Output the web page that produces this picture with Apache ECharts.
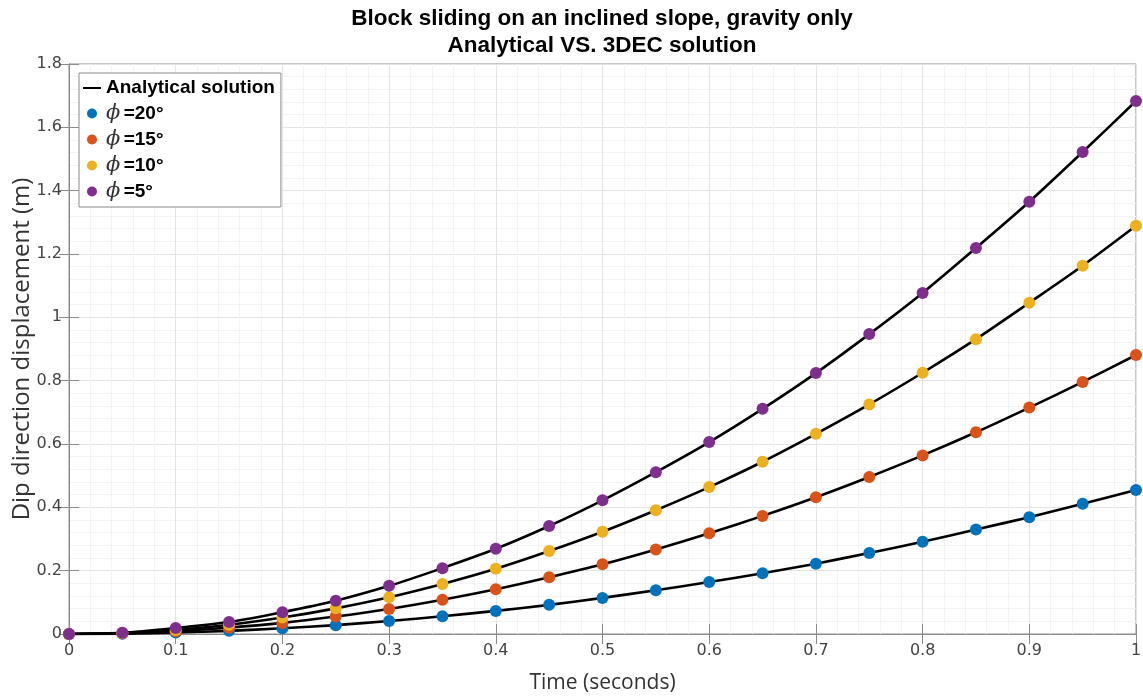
<!DOCTYPE html>
<html>
<head>
<meta charset="utf-8">
<script src="https://cdn.jsdelivr.net/npm/echarts@6/dist/echarts.min.js"></script>
<style>html,body{margin:0;padding:0;background:#fff;}#c{width:1143px;height:698px;}</style>
</head>
<body>
<div id="c"></div>
<script>
var times = [0,0.05,0.1,0.15,0.2,0.25,0.3,0.35,0.4,0.45,0.5,0.55,0.6,0.65,0.7,0.75,0.8,0.85,0.9,0.95,1.0];
var phi20 = [0,0.001,0.005,0.010,0.018,0.028,0.041,0.056,0.073,0.092,0.114,0.138,0.164,0.192,0.222,0.256,0.291,0.330,0.369,0.411,0.455];
var phi15 = [0,0.002,0.009,0.020,0.035,0.055,0.079,0.108,0.141,0.179,0.220,0.267,0.318,0.373,0.432,0.496,0.564,0.637,0.715,0.796,0.881];
var phi10 = [0,0.003,0.013,0.029,0.052,0.081,0.116,0.158,0.206,0.262,0.323,0.391,0.464,0.544,0.632,0.725,0.825,0.931,1.046,1.163,1.289];
var phi5  = [0,0.004,0.019,0.038,0.069,0.105,0.152,0.208,0.269,0.341,0.422,0.511,0.606,0.711,0.824,0.947,1.077,1.219,1.365,1.522,1.683];
var seriesNames = ['ϕ =20°','ϕ =15°','ϕ =10°','ϕ =5°'];
var seriesColors = ['#0072BD','#D95319','#EDB120','#7E2F8E'];
var titleLines = ['Block sliding on an inclined slope, gravity only','Analytical VS. 3DEC solution'];
var lineName = 'Analytical solution';

var allData = [phi20, phi15, phi10, phi5];
function pairs(v){ return times.map(function(t,i){ return [t, v[i]]; }); }

var series = [];
allData.forEach(function(v){
  series.push({
    name: lineName, type: 'line', data: pairs(v), symbol: 'none', smooth: 0.25,
    lineStyle: {color: '#000', width: 2.6}, itemStyle: {color: '#000'}, z: 2, silent: true
  });
});
allData.forEach(function(v, k){
  series.push({
    name: seriesNames[k], type: 'scatter', data: pairs(v), symbol: 'circle', symbolSize: 12,
    itemStyle: {color: seriesColors[k], opacity: 1}, z: 3
  });
});

var axisGray = '#8c8c8c';
var titleFont = 'bold 22.5px "Liberation Sans", Arial, sans-serif';
var chart = echarts.init(document.getElementById('c'), null, {renderer: 'canvas'});
chart.setOption({
  animation: false,
  backgroundColor: '#fff',
  graphic: [
    {type: 'text', x: 602, y: 19, style: {text: titleLines[0], x: 0, y: 0, align: 'center', verticalAlign: 'middle', font: titleFont, fill: '#000'}},
    {type: 'text', x: 602, y: 46, style: {text: titleLines[1], x: 0, y: 0, align: 'center', verticalAlign: 'middle', font: titleFont, fill: '#000'}}
  ],
  grid: {left: 69, right: 7, top: 64, bottom: 64, show: true, borderColor: axisGray, borderWidth: 1, containLabel: false, outerBoundsMode: 'none'},
  legend: {
    orient: 'vertical', left: 79, top: 73, padding: [5, 6, 5, 4], itemGap: 5,
    itemWidth: 18, itemHeight: 10,
    backgroundColor: '#fff', borderColor: '#8a8a8a', borderWidth: 1,
    data: [
      {name: lineName, icon: 'path://M0,4L18,4L18,6L0,6Z', itemStyle: {color: '#000'}},
      {name: seriesNames[0], icon: 'circle'},
      {name: seriesNames[1], icon: 'circle'},
      {name: seriesNames[2], icon: 'circle'},
      {name: seriesNames[3], icon: 'circle'}
    ],
    formatter: function(n){
      if (n === lineName) return '{b|' + n + '}';
      var parts = n.split(' ');
      return '{p|' + parts[0] + '} {b|' + parts[1] + '}';
    },
    textStyle: {
      lineHeight: 20,
      rich: {
        b: {fontFamily: '"Liberation Sans", Arial, sans-serif', fontWeight: 'bold', fontSize: 19, color: '#000', lineHeight: 20},
        p: {fontFamily: '"DejaVu Serif", serif', fontStyle: 'italic', fontSize: 21, color: '#333', lineHeight: 20}
      }
    }
  },
  xAxis: [
    {
      type: 'value', min: 0, max: 1, interval: 0.1, position: 'bottom',
      name: 'Time (seconds)', nameLocation: 'middle', nameGap: 39, nameMoveOverlap: false,
      nameTextStyle: {fontFamily: '"Open Sans", "Noto Sans", sans-serif', fontSize: 21, color: '#333'},
      axisLine: {show: true, lineStyle: {color: axisGray, width: 1}},
      axisTick: {show: true, inside: true, length: 10, lineStyle: {color: axisGray}},
      minorTick: {show: false},
      axisLabel: {margin: 9, fontFamily: '"DejaVu Sans", sans-serif', fontSize: 16, color: '#444'},
      splitLine: {show: true, lineStyle: {color: '#e4e4e4', width: 1}},
      minorSplitLine: {show: true, lineStyle: {color: '#f3f3f3', width: 1}},
      splitNumber: 10
    },
    {
      type: 'value', min: 0, max: 1, interval: 0.1, position: 'top',
      axisLine: {show: true, lineStyle: {color: axisGray}},
      axisTick: {show: true, inside: true, length: 10, lineStyle: {color: axisGray}},
      axisLabel: {show: false}, splitLine: {show: false}
    }
  ],
  yAxis: [
    {
      type: 'value', min: 0, max: 1.8, interval: 0.2, position: 'left',
      name: 'Dip direction displacement (m)', nameLocation: 'middle', nameGap: 35, nameMoveOverlap: false,
      nameTextStyle: {fontFamily: '"Open Sans", "Noto Sans", sans-serif', fontSize: 24, color: '#333'},
      axisLine: {show: true, lineStyle: {color: axisGray, width: 1}},
      axisTick: {show: true, inside: true, length: 10, lineStyle: {color: axisGray}},
      minorTick: {show: false, splitNumber: 5},
      axisLabel: {margin: 7, fontFamily: '"DejaVu Sans", sans-serif', fontSize: 16, color: '#444'},
      splitLine: {show: true, lineStyle: {color: '#e4e4e4', width: 1}},
      minorSplitLine: {show: true, lineStyle: {color: '#f3f3f3', width: 1}}
    },
    {
      type: 'value', min: 0, max: 1.8, interval: 0.2, position: 'right',
      axisLine: {show: true, lineStyle: {color: axisGray}},
      axisTick: {show: true, inside: true, length: 10, lineStyle: {color: axisGray}},
      axisLabel: {show: false}, splitLine: {show: false}
    }
  ],
  series: series
});
</script>
</body>
</html>
